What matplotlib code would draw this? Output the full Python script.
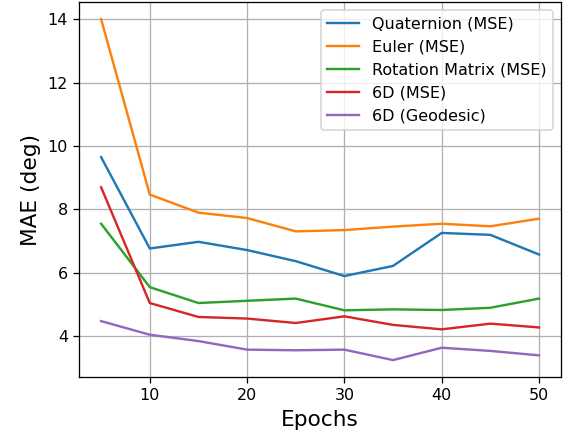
import matplotlib
matplotlib.use("Agg")
import matplotlib.pyplot as plt

epochs = [5, 10, 15, 20, 25, 30, 35, 40, 45, 50]
quaternion_mse = [9.65, 6.77, 6.98, 6.72, 6.37, 5.90, 6.22, 7.26, 7.20, 6.58]
euler_mse = [14.0, 8.47, 7.90, 7.73, 7.31, 7.35, 7.46, 7.55, 7.47, 7.71]
rotmat_mse = [7.55, 5.55, 5.05, 5.12, 5.19, 4.82, 4.85, 4.83, 4.90, 5.19]
sixd_mse = [8.70, 5.05, 4.61, 4.56, 4.42, 4.63, 4.36, 4.22, 4.40, 4.28]
sixd_geo = [4.48, 4.05, 3.85, 3.58, 3.56, 3.58, 3.25, 3.64, 3.54, 3.40]
labels = ["Quaternion (MSE)", "Euler (MSE)", "Rotation Matrix (MSE)", "6D (MSE)", "6D (Geodesic)"]

DPI = 115
fig = plt.figure(figsize=(570 / DPI, 434 / DPI), dpi=DPI)
ax = fig.add_axes([0.139, 0.131, 0.845, 0.864])
for series, lab in zip([quaternion_mse, euler_mse, rotmat_mse, sixd_mse, sixd_geo], labels):
    ax.plot(epochs, series, label=lab)
ax.set_xlabel("Epochs", fontsize=13.5)
ax.set_ylabel("MAE (deg)", fontsize=13.5)
ax.grid(True)
ax.legend(loc="upper right")
fig.savefig("out.png", dpi=DPI)
